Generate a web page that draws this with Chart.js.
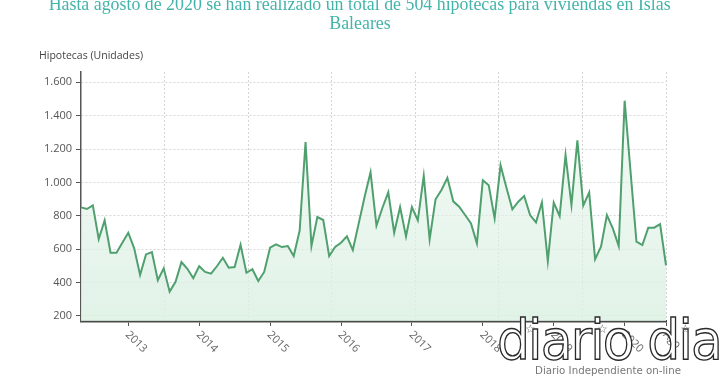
<!DOCTYPE html>
<html>
<head>
<meta charset="utf-8">
<script src="https://cdn.jsdelivr.net/npm/chart.js@4/dist/chart.umd.min.js"></script>
<style>
  html, body { margin: 0; padding: 0; background: #fff; }
  #wrap { position: relative; width: 720px; height: 380px; overflow: hidden; background: #fff; }
  #c { position: absolute; left: 0; top: 0; }
  #title { position: absolute; left: 0; top: -5px; width: 720px; text-align: center;
           font-family: "Liberation Serif", "DejaVu Serif", serif; font-size: 18px; line-height: 19px;
           color: #44b4aa; white-space: nowrap; }
  #title span { display: inline-block; transform-origin: 50% 50%; }
  #ytitle { position: absolute; left: 39px; top: 47px; font-family: "Open Sans", sans-serif;
            font-size: 11px; color: #444; white-space: nowrap; transform-origin: 0 50%; }
  #wm { position: absolute; left: 497px; top: 305px; font-family: "DejaVu Sans", sans-serif;
        font-size: 56px; line-height: 70px; color: #fff; -webkit-text-stroke: 1.4px #2a2a2a;
        white-space: nowrap; transform-origin: 0 0; letter-spacing: -2px; }
  #wmsub { position: absolute; left: 535px; top: 364px; font-family: "DejaVu Sans", sans-serif;
           font-size: 11px; color: #777; white-space: nowrap; transform-origin: 0 0; }
  .star { position: absolute; font-size: 12px; color: #666; font-family: "DejaVu Sans", sans-serif; }
</style>
</head>
<body>
<div id="wrap">
  <canvas id="c" width="720" height="380"></canvas>
  <div id="title"><span id="t1">Hasta agosto de 2020 se han realizado un total de 504 hipotecas para viviendas en Islas</span><br><span id="t2">Baleares</span></div>
  <div id="ytitle">Hipotecas (Unidades)</div>
  <div id="wm">diario dia</div>
  <div id="wmsub">Diario Independiente on-line</div>
  <div class="star" style="left:525px;top:322px">☆</div>
  <div class="star" style="left:597px;top:322px">☆</div>
  <div class="star" style="left:680px;top:322px">☆</div>
</div>
<script>
// ---- data ----
const startYear = 2012;
const startMonth = 5; // first observation: May 2012
const hipotecas = [
  851, 841, 863, 661, 773, 579, 579, 639,            // 2012 May-Dec
  699, 605, 446, 569, 583, 414, 486, 346, 405, 523, 483, 426,   // 2013
  498, 464, 454, 498, 549, 489, 493, 627, 459, 480, 410, 464,   // 2014
  609, 629, 613, 619, 559, 711, 1242, 619, 793, 775, 559, 613,  // 2015
  639, 677, 595, 755, 915, 1061, 741, 847, 941, 699, 853, 677,  // 2016
  853, 773, 1039, 659, 899, 955, 1028, 887, 855, 805, 755, 635, // 2017
  1013, 983, 785, 1103, 969, 839, 885, 919, 805, 761, 881, 529, // 2018
  879, 799, 1164, 865, 1252, 861, 941, 540, 615, 805, 725, 619, // 2019
  1490, 1065, 645, 625, 729, 729, 751, 504                      // 2020 Jan-Aug
];
const xTickMonths = ['2013-01','2014-01','2015-01','2016-01','2017-01','2018-01','2019-01','2020-01','2020-08'];
const xTickLabels = ['2013','2014','2015','2016','2017','2018','2019','2020','Ago'];
const yTickValues = [200, 400, 600, 800, 1000, 1200, 1400, 1600];

// month categories
const months = [];
for (let i = 0; i < hipotecas.length; i++) {
  const m = startMonth - 1 + i;
  const y = startYear + Math.floor(m / 12);
  const mm = (m % 12) + 1;
  months.push(y + '-' + (mm < 10 ? '0' + mm : mm));
}
const tickIdx = xTickMonths.map(m => months.indexOf(m));

function fmt(v) { return String(v).replace(/\B(?=(\d{3})+(?!\d))/g, '.'); }

const xLabelPlugin = {
  id: 'xLabelPlugin',
  afterDraw(chart) {
    const s = chart.scales.x;
    const ctx = chart.ctx;
    ctx.save();
    ctx.font = '11px "Open Sans", sans-serif';
    ctx.fillStyle = '#666';
    ctx.textAlign = 'left';
    ctx.textBaseline = 'middle';
    tickIdx.forEach((idx, k) => {
      const x = s.getPixelForValue(idx);
      ctx.save();
      ctx.translate(x - 1, s.top + 12);
      ctx.rotate(Math.PI / 4);
      ctx.fillText(xTickLabels[k], 0, 0);
      ctx.restore();
    });
    ctx.restore();
  }
};

Chart.defaults.font.family = '"Open Sans", sans-serif';
const ctx = document.getElementById('c').getContext('2d');
new Chart(ctx, {
  type: 'line',
  data: {
    labels: months,
    datasets: [{
      data: hipotecas,
      borderColor: '#4fa06e',
      borderWidth: 2,
      pointRadius: 0,
      tension: 0,
      fill: 'start',
      backgroundColor: (c) => {
        const a = c.chart.chartArea;
        if (!a) return 'rgba(220,240,228,0.6)';
        const g = c.chart.ctx.createLinearGradient(0, a.top, 0, a.bottom);
        g.addColorStop(0, 'rgba(225,243,232,0.35)');
        g.addColorStop(1, 'rgba(220,240,227,0.85)');
        return g;
      }
    }]
  },
  options: {
    responsive: false,
    devicePixelRatio: 1,
    animation: false,
    layout: { padding: { left: 0, right: 54, top: 72, bottom: 49 } },
    plugins: { legend: { display: false }, tooltip: { enabled: false }, title: { display: false } },
    scales: {
      x: {
        type: 'category',
        offset: false,
        position: 'bottom',
        afterBuildTicks: (s) => { s.ticks = tickIdx.map(v => ({ value: v })); },
        afterFit: (s) => { s.height = 10; },
        ticks: { display: false, autoSkip: false },
        grid: { drawOnChartArea: false, drawTicks: true, tickLength: 5, tickColor: '#555', tickWidth: 1 },
        border: { display: true, color: '#4a4a4a', width: 2.5 }
      },
      xg: {
        type: 'linear',
        position: 'bottom',
        min: 0,
        max: hipotecas.length - 1,
        afterBuildTicks: (s) => {
          const t = [];
          for (let k = 1; k <= 7; k++) t.push({ value: k * (hipotecas.length - 1) / 7 });
          s.ticks = t;
        },
        afterFit: (s) => { s.height = 0; },
        ticks: { display: false },
        grid: { drawOnChartArea: true, drawTicks: false, color: '#d4d4d4', lineWidth: 1 },
        border: { display: false, dash: [2, 2] }
      },
      y: {
        min: 170,
        max: 1662,
        afterBuildTicks: (s) => { s.ticks = yTickValues.map(v => ({ value: v })); },
        afterFit: (s) => { s.width = 81; },
        ticks: { color: '#555', font: { size: 11 }, padding: 4, callback: (v) => fmt(v) },
        grid: { color: '#d6d6d6', lineWidth: 1, drawTicks: true, tickLength: 5, tickColor: '#555', tickBorderDash: [] },
        border: { display: true, color: '#555', width: 1.5, dash: [2, 2] }
      }
    }
  },
  plugins: [xLabelPlugin]
});

// fit text widths to the reference
(function () {
  const t1 = document.getElementById('t1');
  const w = t1.getBoundingClientRect().width;
  const sx = 622 / w;
  t1.style.transform = 'scaleX(' + sx + ')';
  document.getElementById('t2').style.transform = 'scaleX(' + sx + ')';
  const yt = document.getElementById('ytitle');
  yt.style.transform = 'scaleX(' + (104 / yt.getBoundingClientRect().width) + ')';
  const wm = document.getElementById('wm');
  wm.style.transform = 'scaleX(' + (224 / wm.getBoundingClientRect().width) + ')';
  const ws = document.getElementById('wmsub');
  ws.style.transform = 'scaleX(' + (146 / ws.getBoundingClientRect().width) + ')';
})();
</script>
</body>
</html>
